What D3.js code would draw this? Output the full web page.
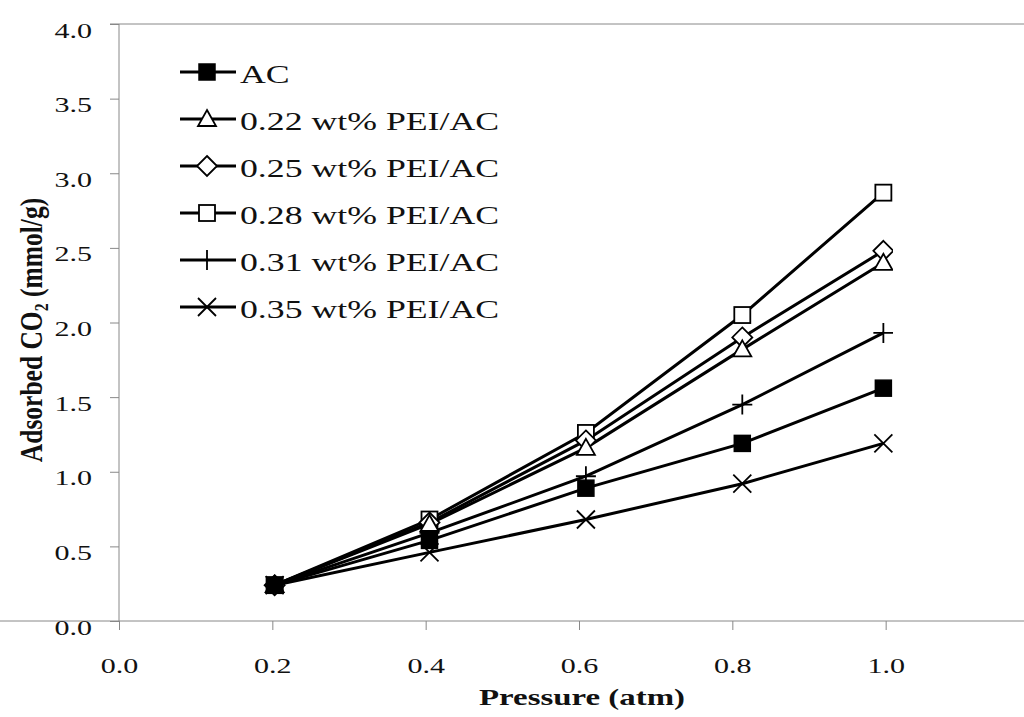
<!DOCTYPE html>
<html><head><meta charset="utf-8">
<script src="https://cdn.jsdelivr.net/npm/d3@7"></script>
<style>body{margin:0;background:#fff}svg{display:block}</style>
</head><body>
<svg id="c" width="1024" height="717"></svg>
<script>
const pressure = [0.203, 0.405, 0.609, 0.813, 0.997];
const seriesNames = ["AC","0.22 wt% PEI/AC","0.25 wt% PEI/AC","0.28 wt% PEI/AC","0.31 wt% PEI/AC","0.35 wt% PEI/AC"];
const acVals   = [0.24, 0.54, 0.89, 1.19, 1.56];
const pei22    = [0.24, 0.65, 1.16, 1.82, 2.40];
const pei25    = [0.24, 0.66, 1.21, 1.90, 2.48];
const pei28    = [0.24, 0.68, 1.26, 2.05, 2.87];
const pei31    = [0.24, 0.59, 0.97, 1.45, 1.93];
const pei35    = [0.24, 0.46, 0.68, 0.92, 1.19];
const markers  = ["fsquare","triangle","diamond","square","plus","cross"];
const xTicks = [0, 0.2, 0.4, 0.6, 0.8, 1.0];
const yTicks = [0,0.5,1,1.5,2,2.5,3,3.5,4];

const series = [acVals, pei22, pei25, pei28, pei31, pei35].map((v,i)=>({name:seriesNames[i], vals:v, m:markers[i]}));

const SX = 1.43; // horizontal stretch of the original image
const svg = d3.select("#c");
const font = "Liberation Serif";
const x = d3.scaleLinear().domain([0,1.2]).range([119, 1039]);
const y = d3.scaleLinear().domain([0,4]).range([621, 24]);

// frame
svg.append("line").attr("x1",110).attr("x2",1024).attr("y1",24).attr("y2",24).attr("stroke","#888").attr("stroke-width",1);

const xa = svg.append("g").attr("transform","translate(0,621)")
  .call(d3.axisBottom(x).tickValues(xTicks).tickFormat(d3.format(".1f")).tickSize(9));
const ya = svg.append("g").attr("transform","translate(119,0)")
  .call(d3.axisLeft(y).tickValues(yTicks).tickFormat(d3.format(".1f")).tickSize(9));
[xa,ya].forEach(a=>{
  a.select(".domain").attr("stroke","#888");
  a.selectAll(".tick line").attr("stroke","#888");
  a.selectAll("text").attr("font-family",font).attr("font-size",21).attr("fill","#111");
});
xa.selectAll(".tick text").attr("y",52).attr("dy",null).attr("transform",`scale(${SX},1)`);
ya.selectAll(".tick text").attr("x",-27/SX).attr("dy",null).attr("y",13).attr("transform",`scale(${SX},1)`);
ya.select(".domain").attr("d","M0,24V621");
xa.select(".domain").attr("d","M0,0H1024");

svg.append("clipPath").attr("id","clip").append("rect").attr("x",100).attr("y",0).attr("width",793).attr("height",640);

function marker(g, type, cx, cy){
  const s = 8;
  if(type==="fsquare") g.append("rect").attr("x",cx-s).attr("y",cy-s).attr("width",2*s).attr("height",2*s).attr("fill","#000").attr("stroke","#000").attr("stroke-width",1.5);
  else if(type==="square") g.append("rect").attr("x",cx-s).attr("y",cy-s).attr("width",2*s).attr("height",2*s).attr("fill","#fff").attr("stroke","#000").attr("stroke-width",1.8);
  else if(type==="triangle") g.append("path").attr("d",`M${cx},${cy-9}L${cx+9},${cy+7}L${cx-9},${cy+7}Z`).attr("fill","#fff").attr("stroke","#000").attr("stroke-width",1.8);
  else if(type==="diamond") g.append("path").attr("d",`M${cx},${cy-10}L${cx+10},${cy}L${cx},${cy+10}L${cx-10},${cy}Z`).attr("fill","#fff").attr("stroke","#000").attr("stroke-width",1.8);
  else if(type==="plus") g.append("path").attr("d",`M${cx-10},${cy}H${cx+10}M${cx},${cy-10}V${cy+10}`).attr("stroke","#000").attr("stroke-width",1.8);
  else if(type==="cross") g.append("path").attr("d",`M${cx-9},${cy-9}L${cx+9},${cy+9}M${cx+9},${cy-9}L${cx-9},${cy+9}`).attr("stroke","#000").attr("stroke-width",1.8);
}

const plot = svg.append("g").attr("clip-path","url(#clip)");
const line = d3.line().x((d,i)=>x(pressure[i])).y(d=>y(d));
series.forEach(s=>{
  plot.append("path").attr("d",line(s.vals)).attr("fill","none").attr("stroke","#000").attr("stroke-width",3);
});
series.slice().reverse().forEach(s=>{
  s.vals.forEach((v,i)=>marker(plot, s.m, x(pressure[i]), y(v)));
});

// legend
const lg = svg.append("g");
series.forEach((s,i)=>{
  const ly = 72 + i*47;
  lg.append("line").attr("x1",180).attr("x2",236).attr("y1",ly).attr("y2",ly).attr("stroke","#000").attr("stroke-width",3);
  marker(lg, s.m, 207, ly);
  lg.append("text").attr("transform",`translate(240,${ly+11}) scale(${SX},1)`).attr("font-family",font)
    .attr("font-size",25).attr("fill","#111").text(s.name);
});

// axis titles
svg.append("text").attr("transform",`translate(582,705) scale(${SX},1)`).attr("text-anchor","middle").attr("font-family",font)
  .attr("font-weight","bold").attr("font-size",23).attr("fill","#111").text("Pressure (atm)");
const yt = svg.append("text").attr("transform",`translate(42,330) scale(1.2,1) rotate(-90)`).attr("text-anchor","middle")
  .attr("font-family",font).attr("font-weight","bold").attr("font-size",25.5).attr("fill","#111");
yt.append("tspan").text("Adsorbed CO");
yt.append("tspan").attr("font-size",16).attr("dy",5).text("2");
yt.append("tspan").attr("dy",-5).text(" (mmol/g)");
</script>
</body></html>
